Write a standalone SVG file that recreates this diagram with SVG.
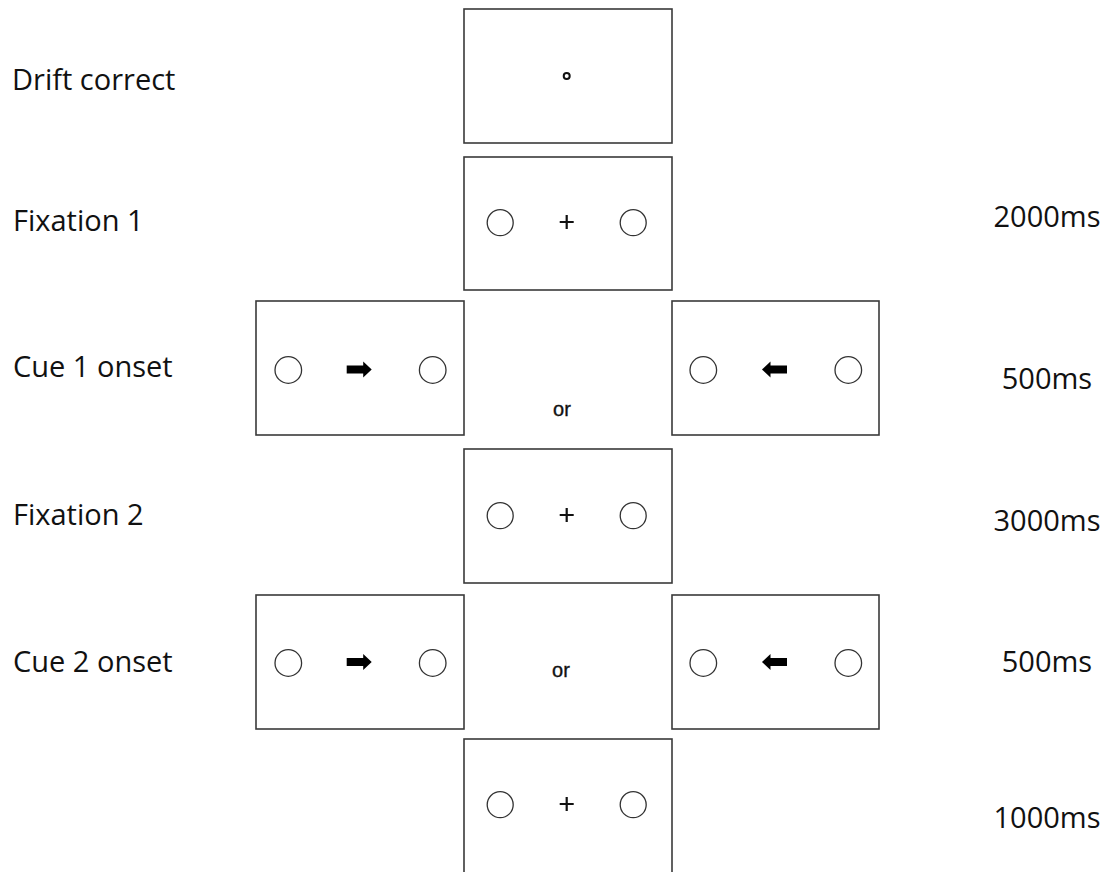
<svg xmlns="http://www.w3.org/2000/svg" width="1111" height="872" viewBox="0 0 1111 872">
  <style>
    .screen { fill: #ffffff; stroke: #3a3a3a; stroke-width: 1.6; }
    .ring { fill: none; stroke: #333333; stroke-width: 1.3; }
    .cross { stroke: #111111; stroke-width: 2.2; fill: none; }
    .arrow { fill: #000000; }
    .label { font-family: "Open Sans", "Noto Sans", sans-serif; font-size: 29px; fill: #111111; }
    .time { font-family: "Open Sans", "Noto Sans", sans-serif; font-size: 29px; fill: #111111; text-anchor: middle; }
    .or { font-family: "Liberation Sans", Arial, sans-serif; font-size: 20px; fill: #111111; stroke: #111111; stroke-width: 0.35; text-anchor: middle; }
  </style>
  <defs>
    <!-- placeholder circles + fixation cross -->
    <g id="fixScreen">
      <circle class="ring" cx="-66.5" cy="0.7" r="13"/>
      <circle class="ring" cx="66.5" cy="0.7" r="13"/>
      <path class="cross" d="M-7,0 H7 M0,-7 V7"/>
    </g>
    <!-- block arrows, centred on their midpoint -->
    <path id="arrowR" class="arrow" d="M-12.5,-4 H4 V-8 L12.5,0 L4,8 V4 H-12.5 Z"/>
    <path id="arrowL" class="arrow" d="M12.5,-4 H-4 V-8 L-12.5,0 L-4,8 V4 H12.5 Z"/>
  </defs>

  <rect width="1111" height="872" fill="#ffffff"/>

  <!-- row labels -->
  <g id="labels">
    <text class="label" x="12" y="90">Drift correct</text>
    <text class="label" x="13" y="231">Fixation 1</text>
    <text class="label" x="13" y="377">Cue 1 onset</text>
    <text class="label" x="13" y="525">Fixation 2</text>
    <text class="label" x="13" y="672">Cue 2 onset</text>
  </g>

  <!-- durations -->
  <g id="durations">
    <text class="time" x="1047" y="227">2000ms</text>
    <text class="time" x="1047" y="389">500ms</text>
    <text class="time" x="1047" y="531">3000ms</text>
    <text class="time" x="1047" y="672">500ms</text>
    <text class="time" x="1047" y="828">1000ms</text>
  </g>

  <!-- drift correction target -->
  <g id="drift">
    <rect class="screen" x="464" y="9" width="208" height="134"/>
    <circle cx="566.7" cy="76" r="3" fill="none" stroke="#111111" stroke-width="2"/>
  </g>

  <g id="fixation1">
    <rect class="screen" x="464" y="157" width="208" height="133"/>
    <use href="#fixScreen" x="566.7" y="222"/>
  </g>

  <g id="cue1-right">
    <rect class="screen" x="256" y="301" width="208" height="134"/>
    <circle class="ring" cx="288.3" cy="370" r="13.3"/>
    <circle class="ring" cx="432.7" cy="370" r="13.3"/>
    <use href="#arrowR" x="359.2" y="369.5"/>
  </g>

  <g id="cue1-or">
    <text class="or" x="562" y="416">or</text>
  </g>

  <g id="cue1-left">
    <rect class="screen" x="672" y="301" width="207" height="134"/>
    <circle class="ring" cx="703.3" cy="370" r="13.3"/>
    <circle class="ring" cx="848.3" cy="370" r="13.3"/>
    <use href="#arrowL" x="774.5" y="369.5"/>
  </g>

  <g id="fixation2">
    <rect class="screen" x="464" y="449" width="208" height="134"/>
    <use href="#fixScreen" x="566.7" y="515"/>
  </g>

  <g id="cue2-right">
    <rect class="screen" x="256" y="595" width="208" height="134"/>
    <circle class="ring" cx="288.3" cy="663" r="13.3"/>
    <circle class="ring" cx="432.7" cy="663" r="13.3"/>
    <use href="#arrowR" x="359.2" y="662"/>
  </g>

  <g id="cue2-or">
    <text class="or" x="561" y="677">or</text>
  </g>

  <g id="cue2-left">
    <rect class="screen" x="672" y="595" width="207" height="134"/>
    <circle class="ring" cx="703.3" cy="663" r="13.3"/>
    <circle class="ring" cx="848.3" cy="663" r="13.3"/>
    <use href="#arrowL" x="774.5" y="662"/>
  </g>

  <g id="fixation3">
    <rect class="screen" x="464" y="739" width="208" height="150"/>
    <use href="#fixScreen" x="566.7" y="804"/>
  </g>

  <g id="connectors"/>
</svg>
